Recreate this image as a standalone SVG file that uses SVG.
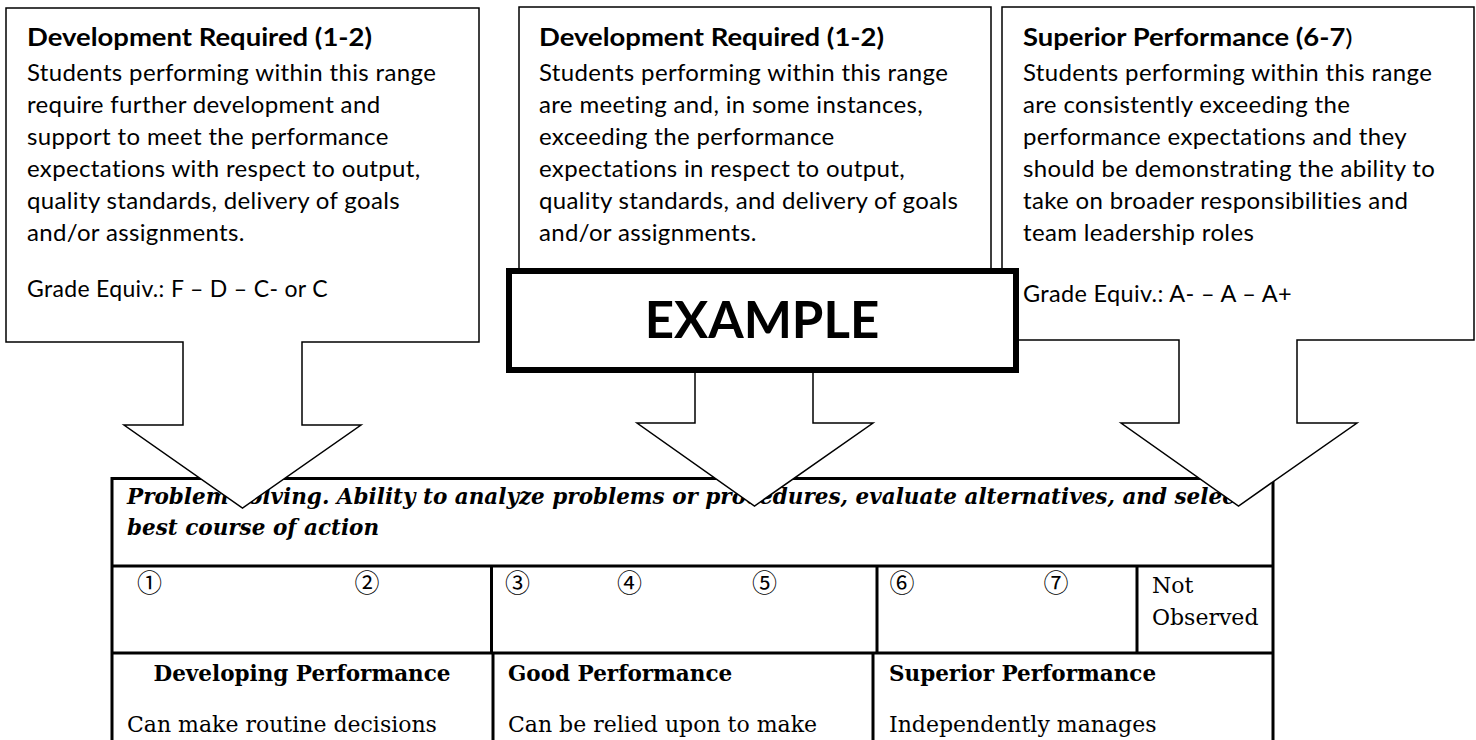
<svg xmlns="http://www.w3.org/2000/svg" width="1476" height="740" viewBox="0 0 1476 740">
<style>
  .bg{fill:#fff}
  .callout{fill:#fff;stroke:#000;stroke-width:1.5;stroke-linejoin:miter}
  .ct{font-family:Lato,"Open Sans","Liberation Sans",sans-serif;font-size:24px;letter-spacing:0.35px;fill:#000}
  .cb{font-weight:bold;letter-spacing:0}
  .ex{fill:#fff;stroke:#000;stroke-width:6}
  .ext{font-family:Lato,"Liberation Sans",sans-serif;font-weight:bold;font-size:51px;fill:#000}
  .tl{stroke:#000;stroke-width:3;fill:none}
  .tt{font-family:"DejaVu Serif","Liberation Serif",serif;font-size:22px;fill:#000}
  .tb{font-weight:bold;font-size:21.5px}
  .ti{font-weight:bold;font-style:italic;font-size:21.5px}
  .num{font-family:"Noto Sans CJK JP","DejaVu Sans",sans-serif;font-size:25px;fill:#000}
</style>
<rect class="bg" x="0" y="0" width="1476" height="740"/>

<g id="table">
  <path class="tl" d="M112,478.5 H1273 M112,566 H1273 M112,653 H1273 M112,477 V740 M1273,477 V740 M491.5,566 V653 M877,566 V653 M1137,566 V653 M493,653 V740 M873,653 V740"/>
  <text class="tt ti" x="127" y="504">Problem solving. Ability to analyze problems or procedures, evaluate alternatives, and select</text>
  <text class="tt ti" x="127" y="535">best course of action</text>
  <g class="num" text-anchor="middle" dominant-baseline="central">
    <text x="149.5" y="581">①</text>
    <text x="367" y="581">②</text>
    <text x="517.5" y="581">③</text>
    <text x="629.5" y="581">④</text>
    <text x="764.5" y="581">⑤</text>
    <text x="902" y="581">⑥</text>
    <text x="1056" y="581">⑦</text>
  </g>
  <text class="tt" x="1152" y="593">Not</text>
  <text class="tt" x="1152" y="625">Observed</text>
  <text class="tt tb" x="302" y="681" text-anchor="middle">Developing Performance</text>
  <text class="tt tb" x="508" y="681">Good Performance</text>
  <text class="tt tb" x="889" y="681">Superior Performance</text>
  <text class="tt" x="127" y="732">Can make routine decisions</text>
  <text class="tt" x="508" y="732">Can be relied upon to make</text>
  <text class="tt" x="889" y="732">Independently manages</text>
</g>

<g id="callout-1">
  <polygon class="callout" points="6,8 479,8 479,342 302,342 302,425 361,425 242.5,508 124,425 183,425 183,342 6,342"/>
  <text class="ct cb" x="27" y="46" textLength="345" lengthAdjust="spacingAndGlyphs">Development Required (1-2)</text>
  <text class="ct" x="27" y="81">Students performing within this range</text>
  <text class="ct" x="27" y="113">require further development and</text>
  <text class="ct" x="27" y="145">support to meet the performance</text>
  <text class="ct" x="27" y="177">expectations with respect to output,</text>
  <text class="ct" x="27" y="209">quality standards, delivery of goals</text>
  <text class="ct" x="27" y="241">and/or assignments.</text>
  <text class="ct" x="27" y="297" textLength="301" lengthAdjust="spacingAndGlyphs">Grade Equiv.: F – D – C- or C</text>
</g>

<g id="callout-2">
  <polygon class="callout" points="519,7 991,7 991,340 813,340 813,423 873,423 754.5,506 637,423 695,423 695,340 519,340"/>
  <text class="ct cb" x="539" y="46" textLength="345" lengthAdjust="spacingAndGlyphs">Development Required (1-2)</text>
  <text class="ct" x="539" y="81">Students performing within this range</text>
  <text class="ct" x="539" y="113">are meeting and, in some instances,</text>
  <text class="ct" x="539" y="145">exceeding the performance</text>
  <text class="ct" x="539" y="177">expectations in respect to output,</text>
  <text class="ct" x="539" y="209">quality standards, and delivery of goals</text>
  <text class="ct" x="539" y="241">and/or assignments.</text>
</g>

<g id="callout-3">
  <polygon class="callout" points="1002,7 1474,7 1474,340 1297,340 1297,423 1357,423 1238.5,506 1121,423 1179,423 1179,340 1002,340"/>
  <text class="ct" x="1023" y="46" textLength="330" lengthAdjust="spacingAndGlyphs"><tspan class="cb">Superior Performance (6-7</tspan>)</text>
  <text class="ct" x="1023" y="81">Students performing within this range</text>
  <text class="ct" x="1023" y="113">are consistently exceeding the</text>
  <text class="ct" x="1023" y="145">performance expectations and they</text>
  <text class="ct" x="1023" y="177">should be demonstrating the ability to</text>
  <text class="ct" x="1023" y="209">take on broader responsibilities and</text>
  <text class="ct" x="1023" y="241">team leadership roles</text>
  <text class="ct" x="1023" y="302" textLength="269" lengthAdjust="spacingAndGlyphs">Grade Equiv.: A- – A – A+</text>
</g>

<g id="example">
  <rect class="ex" x="509" y="271" width="507" height="99"/>
  <text class="ext" x="762" y="338" text-anchor="middle">EXAMPLE</text>
</g>
</svg>
